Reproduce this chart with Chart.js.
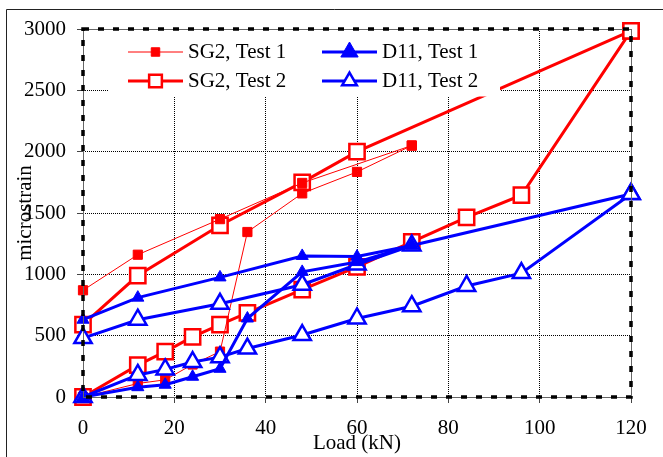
<!DOCTYPE html>
<html>
<head>
<meta charset="utf-8">
<title>Microstrain vs load</title>
<script src="https://cdn.jsdelivr.net/npm/chart.js@4.4.1/dist/chart.umd.min.js"></script>
<style>
  html, body { margin: 0; padding: 0; background: #fff; }
  #wrap { width: 663px; height: 457px; }
</style>
</head>
<body>
<div id="wrap"><canvas id="strainChart" width="663" height="457"></canvas></div>
<script>
// Load steps (kN) and measured strain (microstrain), two runs per gauge/test
const sg2t1LoadA = [0, 12, 30, 48, 72];
const sg2t1StrainA = [870, 1160, 1450, 1745, 2050];
const sg2t1LoadB = [0, 12, 18, 24, 30, 36, 48, 60, 72];
const sg2t1StrainB = [0, 110, 140, 265, 370, 1345, 1660, 1835, 2050];

const sg2t2LoadA = [0, 12, 30, 48, 60, 120];
const sg2t2StrainA = [590, 990, 1400, 1750, 2000, 2985];
const sg2t2LoadB = [0, 12, 18, 24, 30, 36, 48, 60, 72, 84, 96, 120];
const sg2t2StrainB = [0, 260, 370, 490, 590, 685, 875, 1060, 1265, 1465, 1645, 2985];

const d11t1LoadA = [0, 12, 30, 48, 60, 72];
const d11t1StrainA = [630, 810, 975, 1150, 1145, 1235];
const d11t1LoadB = [0, 12, 18, 24, 30, 36, 48, 60, 72];
const d11t1StrainB = [0, 80, 100, 165, 230, 640, 1020, 1100, 1235];

const d11t2LoadA = [0, 12, 30, 48, 60, 72, 120];
const d11t2StrainA = [480, 630, 760, 915, 1080, 1235, 1655];
const d11t2LoadB = [0, 12, 18, 24, 30, 36, 48, 60, 72, 84, 96, 120];
const d11t2StrainB = [0, 180, 225, 285, 325, 395, 505, 640, 740, 905, 1010, 1655];

// Axis ticks
const loadTicks = [0, 20, 40, 60, 80, 100, 120];
const strainTicks = [0, 500, 1000, 1500, 2000, 2500, 3000];

const legendLabels = ['SG2, Test 1', 'SG2, Test 2', 'D11, Test 1', 'D11, Test 2'];

const RED = '#ff0000';
const BLUE = '#0000ff';
const FONT = "'Liberation Serif', 'Times New Roman', serif";

function toPoints(loads, strains) {
    return loads.map((x, i) => ({ x: x, y: strains[i] }));
}

// Line + marker look for each series
const seriesStyle = {
    'SG2, Test 1': { color: RED, lineWidth: 1, shape: 'rect', radius: 6.5, fill: RED, markerWidth: 1,
                     legendRadius: 6, legendLineWidth: 1 },
    'SG2, Test 2': { color: RED, lineWidth: 3, shape: 'rect', radius: 10.8, fill: '#fff', markerWidth: 2.5,
                     legendRadius: 9, legendLineWidth: 3 },
    'D11, Test 1': { color: BLUE, lineWidth: 3, shape: 'triangle', radius: 7, fill: BLUE, markerWidth: 1,
                     legendRadius: 10, legendLineWidth: 3 },
    'D11, Test 2': { color: BLUE, lineWidth: 3, shape: 'triangle', radius: 10, fill: '#fff', markerWidth: 2.5,
                     legendRadius: 8.5, legendLineWidth: 3 }
};

function makeDataset(label, loads, strains) {
    const s = seriesStyle[label];
    return {
        label: label,
        data: toPoints(loads, strains),
        borderColor: s.color,
        borderWidth: s.lineWidth,
        pointStyle: s.shape,
        pointRadius: s.radius,
        pointBackgroundColor: s.fill,
        pointBorderColor: s.color,
        pointBorderWidth: s.markerWidth,
        tension: 0,
        fill: false,
        clip: false
    };
}

// first dataset is painted last (on top)
const datasets = [
    makeDataset('D11, Test 1', d11t1LoadA, d11t1StrainA),
    makeDataset('D11, Test 1', d11t1LoadB, d11t1StrainB),
    makeDataset('D11, Test 2', d11t2LoadA, d11t2StrainA),
    makeDataset('D11, Test 2', d11t2LoadB, d11t2StrainB),
    makeDataset('SG2, Test 1', sg2t1LoadA, sg2t1StrainA),
    makeDataset('SG2, Test 1', sg2t1LoadB, sg2t1StrainB),
    makeDataset('SG2, Test 2', sg2t2LoadA, sg2t2StrainA),
    makeDataset('SG2, Test 2', sg2t2LoadB, sg2t2StrainB)
];

function drawMarker(ctx, shape, x, y, r, fill, stroke, width) {
    ctx.beginPath();
    if (shape === 'rect') {
        const h = Math.SQRT1_2 * r;
        ctx.rect(x - h, y - h, 2 * h, 2 * h);
    } else {
        const a = 2 * Math.PI / 3;
        ctx.moveTo(x, y - r);
        ctx.lineTo(x + Math.sin(a) * r, y - Math.cos(a) * r);
        ctx.lineTo(x + Math.sin(2 * a) * r, y - Math.cos(2 * a) * r);
        ctx.closePath();
    }
    ctx.fillStyle = fill;
    ctx.fill();
    ctx.lineWidth = width;
    ctx.strokeStyle = stroke;
    ctx.stroke();
}

// Legend box sitting inside the plot, over the lines
const insetLegend = {
    id: 'insetLegend',
    afterDatasetsDraw(chart) {
        const { ctx, chartArea: a } = chart;
        ctx.save();
        ctx.fillStyle = '#fff';
        ctx.fillRect(a.left + 25, a.top, 392, 67.5);

        legendLabels.forEach((label, i) => {
            const s = seriesStyle[label];
            const col = Math.floor(i / 2);
            const row = i % 2;
            const x0 = a.left + (col === 0 ? 45 : 239);
            const y = a.top + 23 + row * 29;

            ctx.beginPath();
            ctx.moveTo(x0, y);
            ctx.lineTo(x0 + 55, y);
            ctx.lineWidth = s.legendLineWidth;
            ctx.strokeStyle = s.color;
            ctx.stroke();

            drawMarker(ctx, s.shape, x0 + 27.5, y, s.legendRadius, s.fill, s.color, s.markerWidth);

            ctx.fillStyle = '#000';
            ctx.font = '21px ' + FONT;
            ctx.textBaseline = 'middle';
            ctx.textAlign = 'left';
            ctx.fillText(label, x0 + 60, y);
        });
        ctx.restore();
    }
};

// Dashed plot frame and the figure's outer border
const frames = {
    id: 'frames',
    afterDraw(chart) {
        const { ctx, chartArea: a, width, height } = chart;
        ctx.save();
        ctx.strokeStyle = '#666';
        ctx.lineWidth = 1;
        ctx.strokeRect(a.left + 0.5, a.top + 0.5, a.right - a.left, a.bottom - a.top);

        ctx.strokeStyle = '#000';
        ctx.lineWidth = 3.5;
        ctx.setLineDash([6, 9]);
        ctx.strokeRect(a.left, a.top, a.right - a.left, a.bottom - a.top);
        ctx.setLineDash([]);

        ctx.strokeStyle = '#222';
        ctx.lineWidth = 1;
        ctx.beginPath();
        ctx.moveTo(6.5, height);
        ctx.lineTo(6.5, 9.5);
        ctx.lineTo(width, 9.5);
        ctx.stroke();
        ctx.restore();
    }
};

Chart.defaults.font.family = FONT;
Chart.defaults.font.size = 21;
Chart.defaults.color = '#000';

new Chart(document.getElementById('strainChart'), {
    type: 'line',
    data: { datasets: datasets },
    options: {
        responsive: false,
        animation: false,
        events: [],
        layout: { padding: { left: 0, right: 32, top: 29, bottom: 0 } },
        plugins: {
            legend: { display: false },
            tooltip: { enabled: false }
        },
        scales: {
            x: {
                type: 'linear',
                min: loadTicks[0],
                max: loadTicks[loadTicks.length - 1],
                afterBuildTicks: scale => { scale.ticks = loadTicks.map(v => ({ value: v })); },
                afterFit: scale => { scale.height = 60; },
                ticks: { padding: 13, callback: v => String(v) },
                grid: { color: '#000', lineWidth: 1, tickLength: 6, tickColor: '#444' },
                border: { display: false, dash: [1, 1] },
                title: { display: true, text: 'Load (kN)', padding: { top: 0, bottom: 1 } }
            },
            y: {
                min: strainTicks[0],
                max: strainTicks[strainTicks.length - 1],
                afterBuildTicks: scale => { scale.ticks = strainTicks.map(v => ({ value: v })); },
                afterFit: scale => { scale.width = 83; },
                ticks: { padding: 11, callback: v => String(v) },
                grid: { color: '#000', lineWidth: 1, tickLength: 6, tickColor: '#444' },
                border: { display: false, dash: [1, 1] },
                title: { display: true, text: 'microstrain', padding: { top: 13, bottom: 0 } }
            }
        }
    },
    plugins: [insetLegend, frames]
});
</script>
</body>
</html>
